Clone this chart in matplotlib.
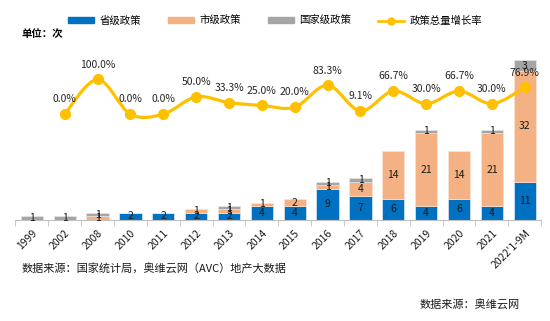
import numpy as np
import matplotlib
matplotlib.use("Agg")
import matplotlib.pyplot as plt
from matplotlib.path import Path
from matplotlib.patches import PathPatch, Patch
from matplotlib.lines import Line2D

plt.rcParams['font.family'] = ['Noto Sans CJK SC', 'DejaVu Sans']

years = ['1999', '2002', '2008', '2010', '2011', '2012', '2013', '2014', '2015',
         '2016', '2017', '2018', '2019', '2020', '2021', "2022'1-9M"]
provincial = [0, 0, 0, 2, 2, 2, 2, 4, 4, 9, 7, 6, 4, 6, 4, 11]
municipal = [0, 0, 1, 0, 0, 1, 1, 1, 2, 1, 4, 14, 21, 14, 21, 32]
national = [1, 1, 1, 0, 0, 0, 1, 0, 0, 1, 1, 0, 1, 0, 1, 3]
# growth rate starts from 2002
growth = [0.0, 100.0, 0.0, 0.0, 50.0, 33.3, 25.0, 20.0, 83.3, 9.1, 66.7, 30.0, 66.7, 30.0, 76.9]

c_prov = '#0070C0'
c_muni = '#F4B183'
c_nat = '#A5A5A5'
c_line = '#FFC000'

fig = plt.figure(figsize=(5.5, 3.21), dpi=100)
ax = fig.add_axes([0.028, 0.315, 0.956, 0.54])
x = np.arange(len(years))
w = 0.68

prov = np.array(provincial)
muni = np.array(municipal)
nat = np.array(national)
ax.bar(x, prov, w, color=c_prov, edgecolor='#dde8f4', linewidth=0.5)
ax.bar(x, muni, w, bottom=prov, color=c_muni, edgecolor='#fbe3d2', linewidth=0.5)
ax.bar(x, nat, w, bottom=prov + muni, color=c_nat, edgecolor='#e6e6e6', linewidth=0.5)

for vals, base in ((prov, 0 * prov), (muni, prov), (nat, prov + muni)):
    for i, v in enumerate(vals):
        if v > 0:
            ax.text(i, base[i] + v / 2, str(v), ha='center', va='center',
                    fontsize=7.5, color='#1a1a1a')

ax.set_xlim(-0.5, len(years) - 0.5)
ax.set_ylim(0, 50)
ax.set_yticks([])
for s in ('top', 'right', 'left'):
    ax.spines[s].set_visible(False)
ax.spines['bottom'].set_color('#bfbfbf')
ax.set_xticks(x)
ax.set_xticklabels(years, rotation=45, ha='right', rotation_mode='anchor',
                   fontsize=7.5, color='#1a1a1a')
ax.set_xticks(np.arange(-0.5, len(years), 1), minor=True)
ax.tick_params(axis='x', which='major', length=0, pad=6)
ax.tick_params(axis='x', which='minor', length=4, color='#bfbfbf')

# growth rate on a hidden secondary axis, drawn as a smoothed curve
ax2 = ax.twinx()
ax2.set_ylim(-3.05, 1.95)
ax2.set_yticks([])
for s in ax2.spines.values():
    s.set_visible(False)
gx = x[1:].astype(float)
gy = np.array(growth) / 100.0
pts = np.column_stack([gx, gy])
ext = np.vstack([pts[0], pts, pts[-1]])
verts = [tuple(pts[0])]
codes = [Path.MOVETO]
for i in range(len(pts) - 1):
    p0, p1, p2, p3 = ext[i], ext[i + 1], ext[i + 2], ext[i + 3]
    c1 = p1 + (p2 - p0) / 6
    c2 = p2 - (p3 - p1) / 6
    verts += [tuple(c1), tuple(c2), tuple(p2)]
    codes += [Path.CURVE4] * 3
ax2.add_patch(PathPatch(Path(verts, codes), fill=False, edgecolor=c_line, lw=2.3, zorder=3))
ax2.plot(gx, gy, 'o', color=c_line, markersize=7, zorder=4)
for xi, g in zip(gx, growth):
    ax2.annotate(f'{g:.1f}%', (xi, g / 100), xytext=(0, 7), textcoords='offset points',
                 ha='center', va='bottom', fontsize=7.5, color='#262626')

handles = [Patch(color=c_prov), Patch(color=c_muni), Patch(color=c_nat),
           Line2D([0], [0], color=c_line, lw=2, marker='o', markersize=5)]
fig.legend(handles, ['省级政策', '市级政策', '国家级政策', '政策总量增长率'],
           loc='center', bbox_to_anchor=(0.5, 0.935), ncol=4, frameon=False,
           fontsize=7.5, handlelength=2.5, handleheight=0.5, columnspacing=2.6,
           handletextpad=0.5)

fig.text(0.04, 0.895, '单位：次', fontsize=7.5, fontweight='bold', va='center')
fig.text(0.04, 0.16, '数据来源：国家统计局，奥维云网（AVC）地产大数据', fontsize=8,
         va='center', color='#1a1a1a')
fig.text(0.945, 0.05, '数据来源：奥维云网', fontsize=8, ha='right', va='center',
         color='#1a1a1a')

fig.savefig('out.png', dpi=100)
